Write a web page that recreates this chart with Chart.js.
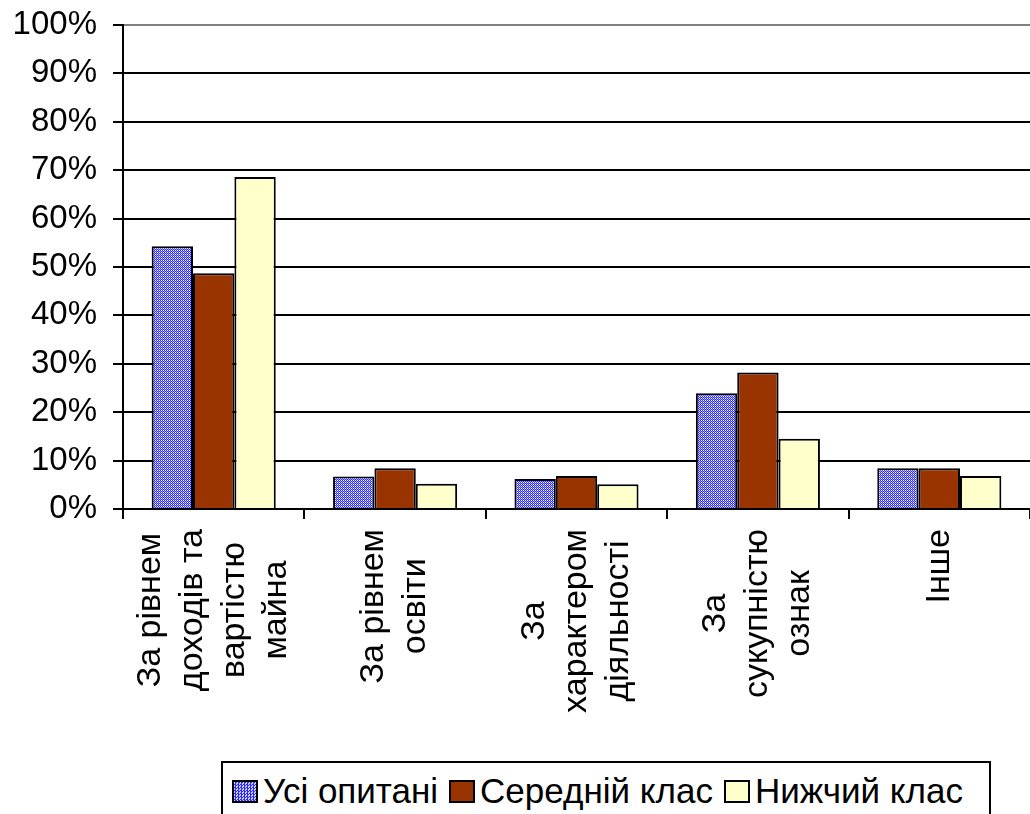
<!DOCTYPE html>
<html>
<head>
<meta charset="utf-8">
<script src="https://cdn.jsdelivr.net/npm/chart.js@4.4.1/dist/chart.umd.min.js"></script>
<style>
    body { margin: 0; background: #fff; overflow: hidden; }
    #cadre { position: relative; width: 1030px; height: 814px; }
    #legende {
        position: absolute; left: 221px; top: 761px; width: 770px; height: 70px;
        border: 2px solid #000; background: #fff; box-sizing: border-box;
        font: 35px "Liberation Sans", Arial, sans-serif; color: #000;
        display: flex; align-items: flex-start; padding-top: 9px;
    }
    #legende .carre { display: inline-block; width: 22px; height: 19px; border: 2px solid #000; margin-top: 8px; flex: none; }
    #legende .texte { margin-left: 5px; margin-right: 11px; line-height: 38px; white-space: nowrap; }
</style>
</head>
<body>
<div id="cadre">
    <canvas id="graphique" width="1030" height="814"></canvas>
    <div id="legende"></div>
</div>
<script>
const categories = [
    ['За рівнем', 'доходів та', 'вартістю', 'майна'],
    ['За рівнем', 'освіти'],
    ['За', 'характером', 'діяльності'],
    ['За', 'сукупністю', 'ознак'],
    ['Інше']
];
const nomsSeries = ['Усі опитані', 'Середній клас', 'Нижчий клас'];
const usiOpytani = [54.3, 6.7, 6.2, 23.9, 8.4];
const seredniiKlas = [48.7, 8.4, 6.8, 28.2, 8.4];
const nyzhchyiKlas = [68.6, 5.2, 5.1, 14.5, 6.8];
const graduations = [0, 10, 20, 30, 40, 50, 60, 70, 80, 90, 100];

const police = '"Liberation Sans", Arial, sans-serif';

// motif quadrillé bleu de la première série
function motifBleu() {
    const c = document.createElement('canvas');
    c.width = 2;
    c.height = 2;
    const g = c.getContext('2d');
    g.fillStyle = '#2a2aff';
    g.fillRect(0, 0, 2, 2);
    g.fillStyle = '#ffffff';
    g.fillRect(1, 0, 1, 1);
    g.fillStyle = '#a0a0ff';
    g.fillRect(0, 1, 1, 1);
    return c;
}

const ctx = document.getElementById('graphique').getContext('2d');
const couleurs = [ctx.createPattern(motifBleu(), 'repeat'), '#993300', '#ffffcc'];

// étiquettes de catégories tournées, lignes centrées entre elles
const etiquettesX = {
    id: 'etiquettesX',
    afterDraw(chart) {
        const c = chart.ctx;
        const echelle = chart.scales.x;
        const haut = chart.chartArea.bottom + 20;
        c.save();
        c.font = '34px ' + police;
        c.fillStyle = '#000';
        c.textAlign = 'center';
        c.textBaseline = 'middle';
        categories.forEach((lignes, i) => {
            const x = echelle.getPixelForValue(i);
            const largeur = Math.max(...lignes.map(l => c.measureText(l).width));
            lignes.forEach((ligne, j) => {
                c.save();
                c.translate(x + (j - (lignes.length - 1) / 2) * 42, haut + largeur / 2);
                c.rotate(-Math.PI / 2);
                c.fillText(ligne, 0, 0);
                c.restore();
            });
        });
        c.restore();
    }
};

new Chart(ctx, {
    type: 'bar',
    data: {
        labels: categories.map(l => l.join(' ')),
        datasets: [usiOpytani, seredniiKlas, nyzhchyiKlas].map((valeurs, i) => ({
            label: nomsSeries[i],
            data: valeurs,
            backgroundColor: couleurs[i],
            borderColor: '#000',
            borderWidth: 2,
            categoryPercentage: 0.684,
            barPercentage: 1
        }))
    },
    options: {
        responsive: false,
        animation: false,
        events: [],
        layout: {padding: {top: 25, right: 0, bottom: 0, left: 0}},
        plugins: {legend: {display: false}, tooltip: {enabled: false}},
        scales: {
            x: {
                z: 1,
                ticks: {display: false},
                grid: {drawOnChartArea: false, drawTicks: true, tickLength: 10, color: '#000', lineWidth: 2},
                border: {color: '#000', width: 2},
                afterFit: (echelle) => { echelle.height = 305; }
            },
            y: {
                min: 0,
                max: 100,
                afterBuildTicks: (echelle) => { echelle.ticks = graduations.map(v => ({value: v})); },
                ticks: {
                    font: {family: police, size: 33},
                    color: '#000',
                    padding: 16,
                    callback: (v) => v + '%'
                },
                grid: {
                    color: (c) => c.tick && c.tick.value === 100 ? '#808080' : '#000',
                    lineWidth: 2,
                    tickLength: 10,
                    tickColor: '#000'
                },
                border: {color: '#000', width: 2},
                afterFit: (echelle) => {
                    echelle.width = 123;
                    echelle.paddingTop = 0;
                    echelle.paddingBottom = 0;
                }
            }
        }
    },
    plugins: [etiquettesX]
});

// légende encadrée
const legende = document.getElementById('legende');
const fondsLegende = ['repeating-conic-gradient(#2a2aff 0 25%, #d0d0ff 0 50%) 0 0 / 3px 3px', '#993300', '#ffffcc'];
nomsSeries.forEach((nom, i) => {
    const carre = document.createElement('span');
    carre.className = 'carre';
    carre.style.background = fondsLegende[i];
    carre.style.marginLeft = i === 0 ? '9px' : '0';
    const texte = document.createElement('span');
    texte.className = 'texte';
    texte.textContent = nom;
    legende.appendChild(carre);
    legende.appendChild(texte);
});
</script>
</body>
</html>
